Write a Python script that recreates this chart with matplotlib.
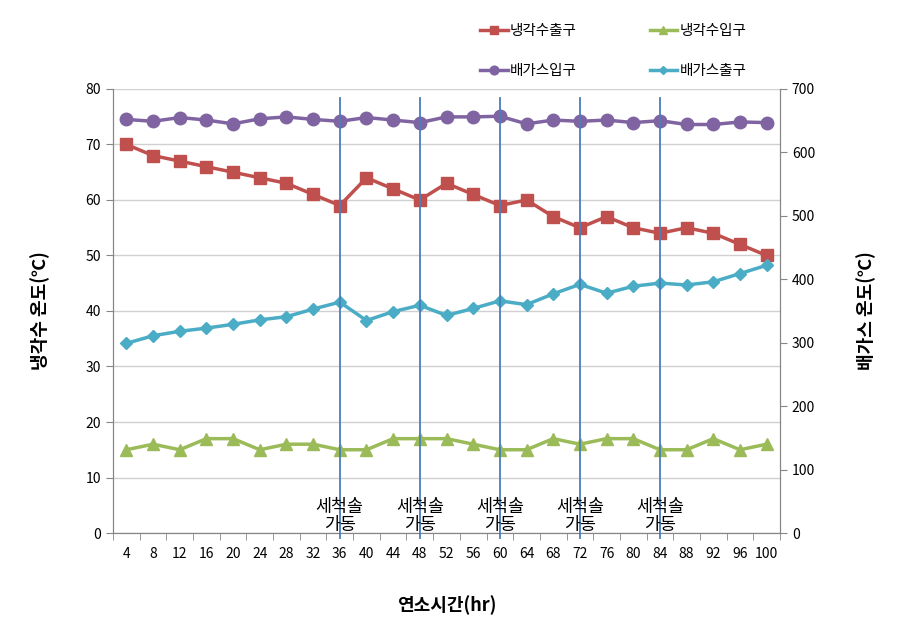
import numpy as np
from matplotlib import pyplot as plt

plt.rcParams['font.family'] = ['Noto Sans CJK KR', 'DejaVu Sans']

# 연소시간 (hr)
hours = [4, 8, 12, 16, 20, 24, 28, 32, 36, 40, 44, 48, 52, 56, 60,
         64, 68, 72, 76, 80, 84, 88, 92, 96, 100]

# 냉각수 온도 (왼쪽 축)
cool_out = [70, 68, 67, 66, 65, 64, 63, 61, 59, 64, 62, 60, 63, 61, 59,
            60, 57, 55, 57, 55, 54, 55, 54, 52, 50]
cool_in = [15, 16, 15, 17, 17, 15, 16, 16, 15, 15, 17, 17, 17, 16, 15,
           15, 17, 16, 17, 17, 15, 15, 17, 15, 16]

# 배가스 온도 (오른쪽 축)
gas_in = [652, 649, 655, 651, 645, 653, 656, 652, 649, 655, 651, 647, 656, 656, 657,
          645, 651, 649, 651, 647, 650, 644, 644, 648, 647]
gas_out = [299, 311, 318, 323, 329, 336, 341, 353, 364, 335, 349, 359, 343, 354, 366,
           360, 377, 392, 378, 389, 394, 391, 396, 409, 422]

# 세척솔 가동 시점
brush_hours = [36, 48, 60, 72, 84]

red = '#C0504D'
green = '#9BBB59'
purple = '#8064A2'
cyan = '#4BACC6'
spine_c = '#868686'

fig = plt.figure(figsize=(9.08, 6.2), dpi=100)
ax = fig.add_axes([0.1245, 0.1403, 0.7345, 0.7162])
ax2 = ax.twinx()

ax.set_xlim(2, 102)
ax.set_ylim(0, 80)
ax2.set_ylim(0, 700)

ax.set_yticks(np.arange(0, 81, 10))
ax2.set_yticks(np.arange(0, 701, 100))
ax.set_xticks(hours)
ax.set_xticks(np.arange(2, 103, 4), minor=True)
ax.tick_params(axis='x', which='major', length=0, pad=10, labelsize=10)
ax.tick_params(axis='x', which='minor', length=5, color=spine_c)
ax.tick_params(axis='y', length=5, color=spine_c, labelsize=10)
ax2.tick_params(axis='y', length=5, color=spine_c, labelsize=10)

ax.grid(axis='y', color='#D0D0D0', lw=1)
ax.set_axisbelow(True)
for a in (ax, ax2):
    a.spines['top'].set_visible(False)
    for s in ('left', 'right', 'bottom'):
        a.spines[s].set_color(spine_c)

l1, = ax.plot(hours, cool_out, color=red, lw=2.5, marker='s', ms=9, label='냉각수출구')
l2, = ax.plot(hours, cool_in, color=green, lw=2.5, marker='^', ms=9, label='냉각수입구')
l3, = ax2.plot(hours, gas_in, color=purple, lw=2.5, marker='o', ms=9, label='배가스입구')
l4, = ax2.plot(hours, gas_out, color=cyan, lw=2.5, marker='D', ms=6.5, label='배가스출구')

for h in brush_hours:
    ax2.plot([h, h], [-8, 685], color='#4A7EBB', lw=1.3, clip_on=False, zorder=5)
    ax2.text(h, -2, '세척솔\n가동', ha='center', va='bottom', fontsize=12.5,
             linespacing=1.0, zorder=6)

ax.set_xlabel('연소시간(hr)', fontsize=13, fontweight='bold', labelpad=25)
ax.set_ylabel('냉각수 온도(℃)', fontsize=13, fontweight='bold', labelpad=26)
ax2.set_ylabel('배가스 온도(℃)', fontsize=13, fontweight='bold', labelpad=30)

fig.legend([l1, l3, l2, l4], ['냉각수출구', '배가스입구', '냉각수입구', '배가스출구'],
           ncol=2, loc='upper left', bbox_to_anchor=(0.514, 0.982), frameon=False,
           fontsize=10.5, handlelength=1.9, labelspacing=1.75, columnspacing=5.0,
           markerscale=0.7, handletextpad=0.15)

fig.savefig('out.png', dpi=100)
